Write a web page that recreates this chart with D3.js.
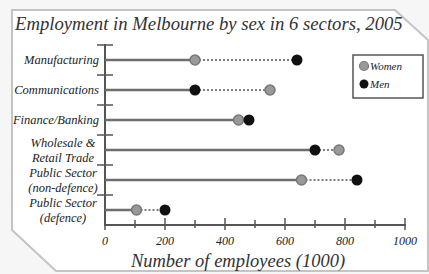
<!DOCTYPE html>
<meta charset="utf-8" />
<style>
  body { margin: 0; background: #f6f6f6; }
  svg { display: block; }
  text { font-family: "Liberation Serif", "DejaVu Serif", serif; font-style: italic; fill: #222; }
</style>
<script src="https://d3js.org/d3.v7.min.js"></script>
<svg id="chart" width="429" height="274"></svg>
<script>
  // data
  const sectors = ["Manufacturing", "Communications", "Finance/Banking",
    "Wholesale & Retail Trade", "Public Sector (non-defence)", "Public Sector (defence)"];
  const sectorLines = [["Manufacturing"], ["Communications"], ["Finance/Banking"],
    ["Wholesale &", "Retail Trade"], ["Public Sector", "(non-defence)"], ["Public Sector", "(defence)"]];
  const women = [300, 550, 445, 780, 655, 105];
  const men = [640, 300, 480, 700, 840, 200];
  const xTicks = [0, 200, 400, 600, 800, 1000];
  const xMinor = [100, 300, 500, 700, 900];

  const svg = d3.select('#chart');

  // card with clipped corners
  const card = [[12, 10], [395, 10], [428, 40], [428, 271], [56, 271], [12, 230]];
  svg.append('polygon')
    .attr('points', card.map(p => p.join(',')).join(' '))
    .attr('fill', '#fff')
    .attr('stroke', '#c4c4c4')
    .attr('stroke-width', 2);

  svg.append('text')
    .attr('x', 15).attr('y', 30)
    .style('font-size', '18.7px')
    .style('fill', '#333')
    .text('Employment in Melbourne by sex in 6 sectors, 2005');

  const x = d3.scaleLinear().domain([0, 1000]).range([105, 405]);
  const y = d3.scaleBand().domain(sectors).range([45, 225]);
  const cy = d => y(d) + y.bandwidth() / 2;

  const g = svg.append('g');

  // axes
  g.append('line').attr('x1', x(0)).attr('x2', x(0)).attr('y1', 44).attr('y2', 226)
    .attr('stroke', '#555').attr('stroke-width', 2);
  g.append('line').attr('x1', x(0) - 1).attr('x2', x(1000) + 1).attr('y1', 225).attr('y2', 225)
    .attr('stroke', '#555').attr('stroke-width', 2);

  g.selectAll('.ytick').data(sectors).join('line')
    .attr('x1', x(0) - 8).attr('x2', x(0) + 8)
    .attr('y1', d => y(d)).attr('y2', d => y(d))
    .attr('stroke', '#555').attr('stroke-width', 1.5);

  g.selectAll('.xtick').data(xTicks).join('line')
    .attr('x1', d => x(d)).attr('x2', d => x(d))
    .attr('y1', 218).attr('y2', 230)
    .attr('stroke', '#555').attr('stroke-width', 1.5);
  g.selectAll('.xminor').data(xMinor).join('line')
    .attr('x1', d => x(d)).attr('x2', d => x(d))
    .attr('y1', 220).attr('y2', 228)
    .attr('stroke', '#555').attr('stroke-width', 1.5);

  g.selectAll('.xlab').data(xTicks).join('text')
    .attr('x', d => x(d)).attr('y', 245)
    .attr('text-anchor', 'middle')
    .style('font-size', '12px')
    .text(d => d);

  svg.append('text')
    .attr('x', 238).attr('y', 267)
    .attr('text-anchor', 'middle')
    .style('font-size', '18.5px')
    .style('fill', '#333')
    .text('Number of employees (1000)');

  // sector labels
  sectors.forEach((s, i) => {
    const lines = sectorLines[i];
    const t = g.append('text')
      .style('font-size', '12.5px')
      .style('fill', '#222');
    if (lines.length === 1) {
      t.attr('x', 99).attr('y', cy(s) + 4).attr('text-anchor', 'end').text(lines[0]);
    } else {
      lines.forEach((l, j) => {
        t.append('tspan').attr('x', 63).attr('text-anchor', 'middle')
          .attr('y', cy(s) - 3 + j * 14.5).text(l);
      });
    }
  });

  // solid stem to the smaller value, dotted to the larger
  const rows = sectors.map((s, i) => ({ s, w: women[i], m: men[i] }));
  g.selectAll('.stem').data(rows).join('line')
    .attr('x1', x(0)).attr('x2', d => x(Math.min(d.w, d.m)))
    .attr('y1', d => cy(d.s)).attr('y2', d => cy(d.s))
    .attr('stroke', '#6e6e6e').attr('stroke-width', 2.5);
  g.selectAll('.gap').data(rows).join('line')
    .attr('x1', d => x(Math.min(d.w, d.m))).attr('x2', d => x(Math.max(d.w, d.m)))
    .attr('y1', d => cy(d.s)).attr('y2', d => cy(d.s))
    .attr('stroke', '#555').attr('stroke-width', 1.5)
    .attr('stroke-dasharray', '2,2');

  g.selectAll('.women').data(rows).join('circle')
    .attr('cx', d => x(d.w)).attr('cy', d => cy(d.s)).attr('r', 5)
    .attr('fill', '#999').attr('stroke', '#777').attr('stroke-width', 1.5);
  g.selectAll('.men').data(rows).join('circle')
    .attr('cx', d => x(d.m)).attr('cy', d => cy(d.s)).attr('r', 5.5)
    .attr('fill', '#111');

  // legend
  const lg = svg.append('g');
  lg.append('rect').attr('x', 353).attr('y', 55).attr('width', 70).attr('height', 43)
    .attr('fill', '#fff').attr('stroke', '#555').attr('stroke-width', 1.5);
  lg.append('circle').attr('cx', 364).attr('cy', 66).attr('r', 4.5)
    .attr('fill', '#999').attr('stroke', '#777').attr('stroke-width', 1.2);
  lg.append('circle').attr('cx', 364).attr('cy', 84).attr('r', 4.5).attr('fill', '#111');
  lg.append('text').attr('x', 370).attr('y', 70).style('font-size', '11px').text('Women');
  lg.append('text').attr('x', 370).attr('y', 88).style('font-size', '11px').text('Men');
</script>
